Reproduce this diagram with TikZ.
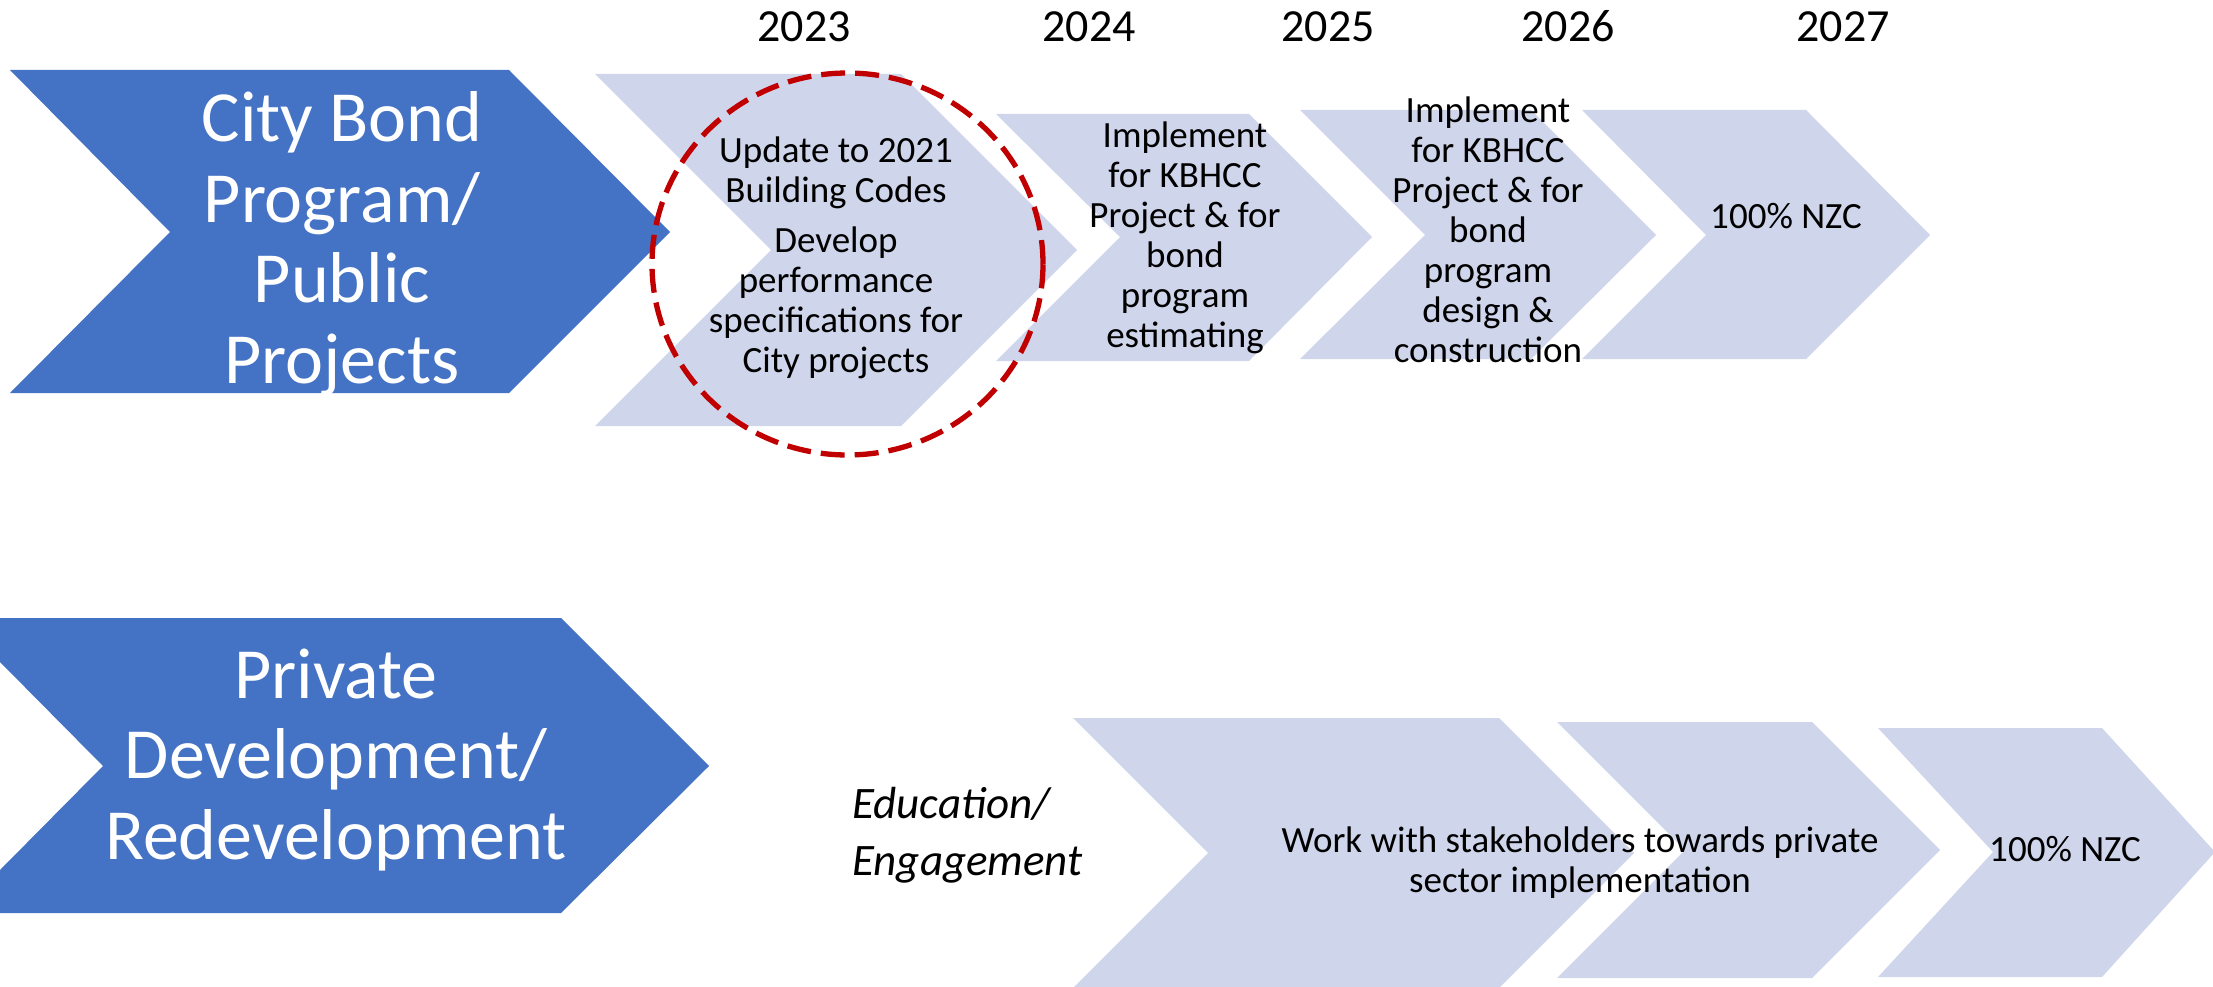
\documentclass[tikz,border=0pt]{standalone}
\usepackage{fontspec}
\setmainfont{Carlito}
\usetikzlibrary{positioning}
\definecolor{chevblue}{HTML}{4472C4}
\definecolor{chevlight}{HTML}{CFD5EA}
\definecolor{ringred}{HTML}{C00000}

\begin{document}
\begin{tikzpicture}[x=1pt, y=-1pt,
  headtext/.style={white, align=center, inner sep=0pt, anchor=base, font=\fontsize{72}{80.5}\selectfont},
  yeartext/.style={black, inner sep=0pt, anchor=base, font=\fontsize{46}{55}\selectfont},
  steptext/.style={black, align=center, inner sep=0pt, anchor=base, font=\fontsize{37}{40}\selectfont}]
\useasboundingbox (0,0) rectangle (2213,987);

% Years
\node[yeartext] (y2023) at (804,42) {2023};
\node[yeartext] (y2024) at (1089,42) {2024};
\node[yeartext] (y2025) at (1328,42) {2025};
\node[yeartext] (y2026) at (1568,42) {2026};
\node[yeartext] (y2027) at (1843,42) {2027};

% City Bond row
\fill[chevblue] (10,70) -- (509,70) -- (670,232) -- (509,393) -- (10,393) -- (170,232) -- cycle;
\fill[chevlight] (595,74) -- (901,74) -- (1077,250) -- (901,426) -- (595,426) -- (771,250) -- cycle;
\fill[chevlight] (996,114) -- (1249,114) -- (1372,237) -- (1249,361) -- (996,361) -- (1120,237) -- cycle;
\fill[chevlight] (1300,110) -- (1531,110) -- (1656,235) -- (1531,359) -- (1300,359) -- (1425,235) -- cycle;
\fill[chevlight] (1582,110) -- (1806,110) -- (1930,235) -- (1806,359) -- (1582,359) -- (1706,235) -- cycle;

% text sits on the baseline of its last line
\node[headtext] (citybond) at (342,383) {City Bond\\Program/\\Public\\Projects};
\node[steptext] (codes) at (836,372) {Update to 2021\\Building Codes\\[10pt]Develop\\performance\\specifications for\\City projects};
\node[steptext] (kbhcc) at (1185,347) {Implement\\for KBHCC\\Project \& for\\bond\\program\\estimating};
\node[steptext] (design) at (1488,362) {Implement\\for KBHCC\\Project \& for\\bond\\program\\design \&\\construction};
\node[steptext] (nzctop) at (1786,229) {100\% NZC};

% Highlight ring
\draw[ringred, line width=5.3pt, dash pattern=on 24pt off 10pt] (847.5,264) ellipse [x radius=195.5pt, y radius=191pt];

% Private row
\fill[chevblue] (0,618) -- (561,618) -- (709,766) -- (561,913) -- (0,913) -- (0,870) -- (103,766) -- (0,662) -- cycle;
\fill[chevlight] (1073,718) -- (1499,718) -- (1634,853) -- (1499,988) -- (1073,988) -- (1208,853) -- cycle;
\fill[chevlight] (1557,722) -- (1812,722) -- (1940,850) -- (1812,978) -- (1557,978) -- (1685,850) -- cycle;
\fill[chevlight] (1878,728) -- (2102,728) -- (2215,852) -- (2102,977) -- (1878,977) -- (1993,852) -- cycle;

\node[headtext] (private) at (336,859) {Private\\Development/\\Redevelopment};
\node[black, align=left, inner sep=0pt, anchor=base west, font=\fontsize{45}{57}\selectfont\itshape] (edu) at (852,875) {Education/\\Engagement};
\node[steptext] (stake) at (1580,892) {Work with stakeholders towards private\\sector implementation};
\node[steptext] (nzcbot) at (2065,861) {100\% NZC};
\end{tikzpicture}
\end{document}
